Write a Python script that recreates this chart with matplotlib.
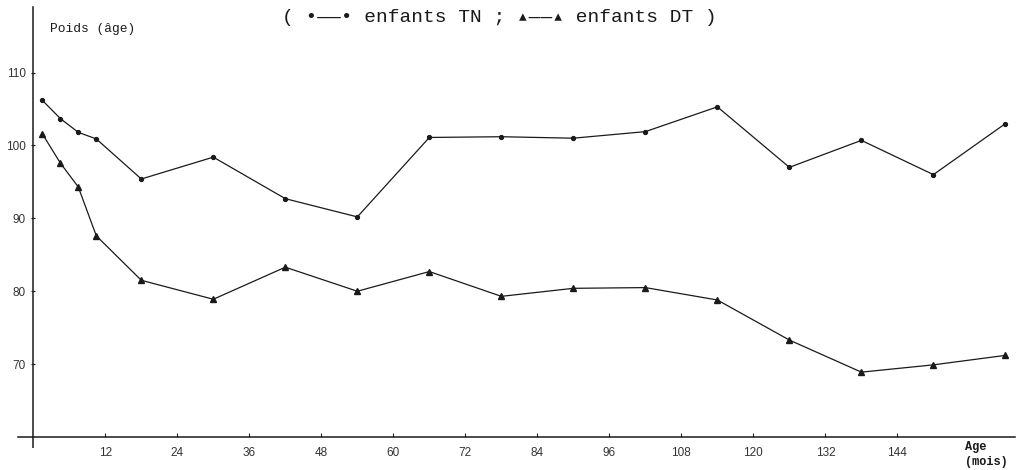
import matplotlib.pyplot as plt

# age (months) and poids/age for the two groups
months = [1.5, 4.5, 7.5, 10.5, 18, 30, 42, 54, 66, 78, 90, 102, 114, 126, 138, 150, 162]
tn = [106.2, 103.7, 101.8, 100.9, 95.4, 98.4, 92.7, 90.2, 101.1, 101.2, 101.0, 101.9, 105.3, 97.0, 100.7, 96.0, 103.0]
dt = [101.6, 97.6, 94.3, 87.6, 81.5, 78.9, 83.3, 80.0, 82.7, 79.3, 80.4, 80.5, 78.8, 73.3, 68.9, 69.9, 71.2]

xticks = [12, 24, 36, 48, 60, 72, 84, 96, 108, 120, 132, 144]
yticks = [70, 80, 90, 100, 110]

mono = ['Liberation Mono', 'DejaVu Sans Mono']
ink = '#1a1a1a'

fig = plt.figure(figsize=(10.21, 4.70), dpi=100)
ax = fig.add_axes([18 / 1021, 33 / 470, 997 / 1021, 430 / 470])

ax.plot(months, tn, color=ink, lw=0.9, marker='o', ms=2.8)
ax.plot(months, dt, color=ink, lw=0.9, marker='^', ms=5)

ax.set_xlim(-2.55, 163.6)
ax.set_ylim(60, 119)

for s in ['top', 'right']:
    ax.spines[s].set_visible(False)
ax.spines['left'].set_position(('data', 0))
ax.spines['left'].set_linewidth(1.1)
ax.spines['bottom'].set_linewidth(1.1)
ax.spines['left'].set_color(ink)
ax.spines['bottom'].set_color(ink)

ax.set_xticks(xticks)
ax.set_xticklabels([str(v) for v in xticks], family='Liberation Sans', fontsize=8.5, color='#333')
ax.set_yticks(yticks)
ax.set_yticklabels([str(v) for v in yticks], family='Liberation Sans', fontsize=8.5, color='#333')
ax.tick_params(axis='x', direction='in', length=3, width=0.8, pad=7, colors=ink, labelcolor='#333')
ax.tick_params(axis='y', direction='inout', length=3, width=0.8, pad=4, colors=ink, labelcolor='#333')
ax.set_xticks([0], minor=True)
ax.tick_params(axis='x', which='minor', direction='out', length=8, width=1.1, colors=ink)

fig.text(50 / 1021, 1 - 29 / 470, 'Poids (âge)', family=mono, fontsize=9.3, va='center', color=ink)
fig.text(499 / 1021, 1 - 17 / 470, '( •——• enfants TN ; ▴——▴ enfants DT )',
         family=mono, fontsize=14, ha='center', va='center', color=ink)
fig.text(965 / 1021, 1 - 447 / 470, 'Age', family=mono, fontsize=8.6, weight='bold', va='center', color=ink)
fig.text(965 / 1021, 1 - 462 / 470, '(mois)', family=mono, fontsize=8.6, weight='bold', va='center', color=ink)

fig.savefig('out.png', dpi=100)
